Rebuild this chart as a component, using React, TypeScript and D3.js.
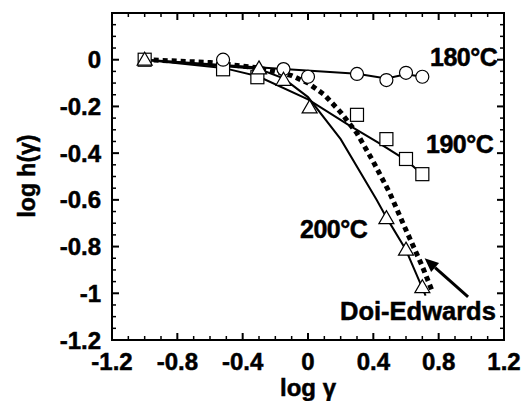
import React from "react";
import * as d3 from "d3";

const W = 526;
const H = 401;
const frame = { left: 112, right: 504, top: 13, bottom: 340 };

// tick labels
const xTickValues = [-1.2, -0.8, -0.4, 0, 0.4, 0.8, 1.2];
const xTickLabels = ["-1.2", "-0.8", "-0.4", "0", "0.4", "0.8", "1.2"];
const yTickValues = [0, -0.2, -0.4, -0.6, -0.8, -1, -1.2];
const yTickLabels = ["0", "-0.2", "-0.4", "-0.6", "-0.8", "-1", "-1.2"];

// 180 C (circles)
const c180X = [-0.52, -0.15, 0, 0.3, 0.48, 0.6, 0.7];
const c180Y = [0.0, -0.04, -0.073, -0.061, -0.087, -0.056, -0.073];
const line180X = [-1, -0.15, 0.3, 0.48, 0.6, 0.7];
const line180Y = [0, -0.04, -0.06, -0.08, -0.062, -0.073];

// 190 C (squares)
const s190X = [-1, -0.52, -0.31, 0.3, 0.48, 0.6, 0.7];
const s190Y = [0, -0.041, -0.075, -0.236, -0.34, -0.425, -0.49];
const line190X = [-1, -0.52, -0.31, 0, 0.25, 0.43, 0.6, 0.7];
const line190Y = [0, -0.035, -0.07, -0.17, -0.28, -0.355, -0.43, -0.49];

// 200 C (triangles)
const t200X = [-1, -0.3, -0.15, 0.01, 0.48, 0.6, 0.7];
const t200Y = [0, -0.037, -0.086, -0.204, -0.678, -0.813, -0.974];
const line200X = [-1, -0.3, -0.15, 0, 0.2, 0.42, 0.48, 0.6, 0.72];
const line200Y = [0, -0.04, -0.08, -0.16, -0.34, -0.6, -0.675, -0.815, -1.01];

// Doi-Edwards prediction
const deX = [-1, -0.6, -0.3, -0.1, 0, 0.1, 0.2, 0.3, 0.4, 0.5, 0.6, 0.7, 0.76];
const deY = [0, -0.012, -0.035, -0.068, -0.1, -0.15, -0.225, -0.315, -0.437, -0.57, -0.729, -0.885, -0.99];

// arrow tail -> tip
const arrowX = [0.98, 0.714];
const arrowY = [-1.015, -0.85];

const font = "'Liberation Sans', Arial, sans-serif";

const zip = (xs: number[], ys: number[]) => xs.map((v, i) => [v, ys[i]] as [number, number]);

export default function App() {
  const x = d3.scaleLinear().domain([-1.2, 1.2]).range([frame.left, frame.right]);
  const y = d3.scaleLinear().domain([-1.2, 0.2]).range([frame.bottom, frame.top]);

  const line = d3
    .line<[number, number]>()
    .x((d) => x(d[0]))
    .y((d) => y(d[1]));

  const xMinor = d3.range(-12, 13).map((i) => i / 10);
  const yMinor = d3.range(-24, 5).map((i) => i / 20);
  const isMajorX = (v: number) => Math.abs(Math.round(v * 10) % 4) === 0;
  const isMajorY = (v: number) => Math.abs(Math.round(v * 20) % 4) === 0;

  // arrow
  const ax0 = x(arrowX[0]), ay0 = y(arrowY[0]);
  const ax1 = x(arrowX[1]), ay1 = y(arrowY[1]);
  const ang = Math.atan2(ay1 - ay0, ax1 - ax0);
  const hl = 14, hw = 6;
  const bx = ax1 - hl * Math.cos(ang), by = ay1 - hl * Math.sin(ang);
  const head = `M${ax1},${ay1}L${bx + hw * Math.sin(ang)},${by - hw * Math.cos(ang)}L${bx - hw * Math.sin(ang)},${by + hw * Math.cos(ang)}Z`;

  const tri = (cx: number, cy: number) =>
    `M${cx},${cy - 7.5}L${cx + 7.5},${cy + 5.5}L${cx - 7.5},${cy + 5.5}Z`;

  return (
    <svg width={W} height={H} style={{ position: "absolute", left: 0, top: 0, background: "#fff" }}>
      {/* ticks */}
      <g stroke="#000">
        {xMinor.map((v, i) => {
          const len = isMajorX(v) ? 7 : 4;
          const sw = isMajorX(v) ? 2 : 1.5;
          return (
            <g key={"xt" + i} strokeWidth={sw}>
              <line x1={x(v)} x2={x(v)} y1={frame.bottom} y2={frame.bottom - len} />
              <line x1={x(v)} x2={x(v)} y1={frame.top} y2={frame.top + len} />
            </g>
          );
        })}
        {yMinor.map((v, i) => {
          const len = isMajorY(v) ? 7 : 4;
          const sw = isMajorY(v) ? 2 : 1.5;
          return (
            <g key={"yt" + i} strokeWidth={sw}>
              <line x1={frame.left} x2={frame.left + len} y1={y(v)} y2={y(v)} />
              <line x1={frame.right} x2={frame.right - len} y1={y(v)} y2={y(v)} />
            </g>
          );
        })}
      </g>
      <rect
        x={frame.left}
        y={frame.top}
        width={frame.right - frame.left}
        height={frame.bottom - frame.top}
        fill="none"
        stroke="#000"
        strokeWidth={2}
      />

      {/* tick labels */}
      <g fontFamily={font} fontWeight="bold" fill="#000" stroke="#000" strokeWidth={0.5}>
        {xTickValues.map((v, i) => (
          <text key={"xl" + i} x={x(v)} y={370} fontSize={24} textAnchor="middle">
            {xTickLabels[i]}
          </text>
        ))}
        {yTickValues.map((v, i) => (
          <text key={"yl" + i} x={101} y={y(v) + 8.5} fontSize={24} textAnchor="end">
            {yTickLabels[i]}
          </text>
        ))}
        <text x={308} y={396} fontSize={24} textAnchor="middle">
          log γ
        </text>
        <text transform="translate(35,176) rotate(-90)" fontSize={23} textAnchor="middle">
          log h(γ)
        </text>
      </g>

      {/* lines */}
      <g fill="none" stroke="#000">
        <path d={line(zip(deX, deY)) || ""} strokeWidth={5} strokeDasharray="5 4" />
        <path d={line(zip(line180X, line180Y)) || ""} strokeWidth={2} />
        <path d={line(zip(line190X, line190Y)) || ""} strokeWidth={2} />
        <path d={line(zip(line200X, line200Y)) || ""} strokeWidth={2} />
      </g>

      {/* markers */}
      <g fill="#fff" stroke="#000" strokeWidth={1.2}>
        {zip(s190X, s190Y).map((d, i) => (
          <rect key={"s" + i} x={x(d[0]) - 6.5} y={y(d[1]) - 6.5} width={13} height={13} />
        ))}
        {zip(c180X, c180Y).map((d, i) => (
          <circle key={"c" + i} cx={x(d[0])} cy={y(d[1])} r={6.5} />
        ))}
        {zip(t200X, t200Y).map((d, i) => (
          <path key={"t" + i} d={tri(x(d[0]), y(d[1]))} />
        ))}
      </g>

      {/* arrow */}
      <line x1={ax0} y1={ay0} x2={bx} y2={by} stroke="#000" strokeWidth={3} />
      <path d={head} fill="#000" />

      {/* annotations */}
      <g fontFamily={font} fontWeight="bold" fontSize={25} fill="#000" stroke="#000" strokeWidth={0.5}>
        <text x={430} y={66} letterSpacing={-0.5}>180°C</text>
        <text x={426} y={153} letterSpacing={-0.5}>190°C</text>
        <text x={300} y={238} letterSpacing={-0.5}>200°C</text>
        <text x={340} y={320} fontSize={25.5}>Doi-Edwards</text>
      </g>
    </svg>
  );
}
